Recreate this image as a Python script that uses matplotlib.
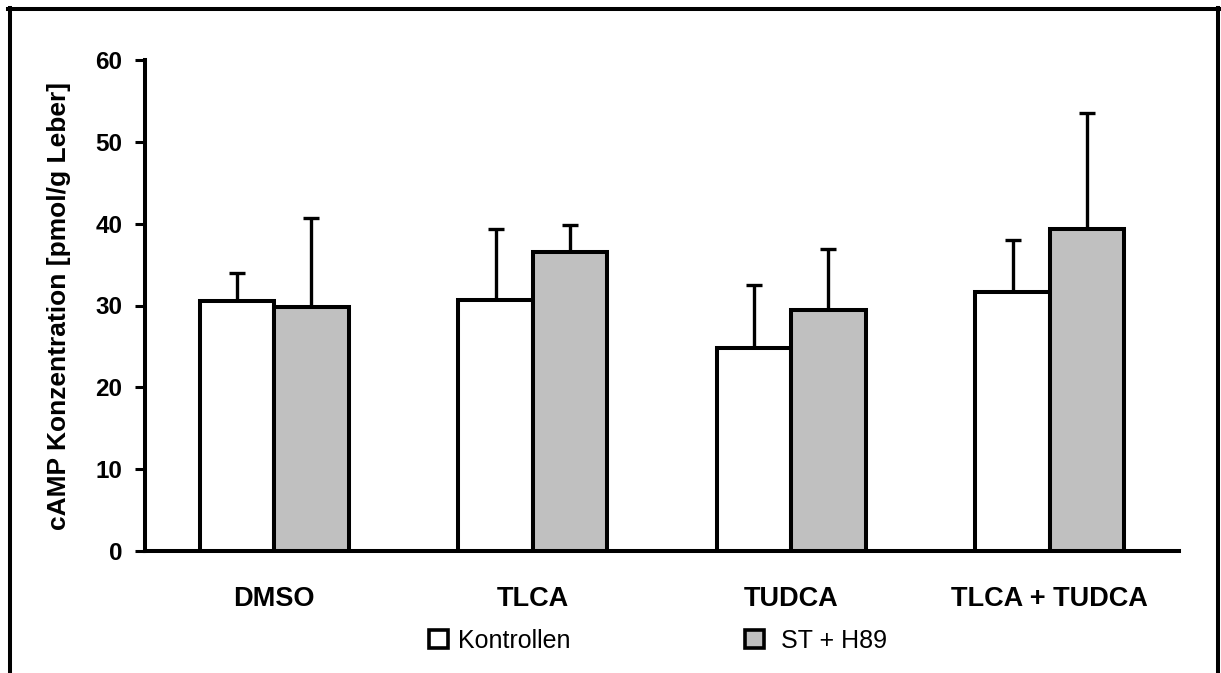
import matplotlib
matplotlib.use("Agg")
import matplotlib.pyplot as plt
from matplotlib.patches import Patch
from matplotlib.lines import Line2D
import numpy as np

plt.rcParams['font.family'] = ['Liberation Sans', 'DejaVu Sans']

# data
groups = ['DMSO', 'TLCA', 'TUDCA', 'TLCA + TUDCA']
ctrl_mean = [30.5, 30.7, 24.8, 31.6]
ctrl_err = [3.5, 8.6, 7.7, 6.4]
st_mean = [29.8, 36.5, 29.4, 39.4]
st_err = [10.9, 3.3, 7.5, 14.1]
series_names = ['Kontrollen', ' ST + H89']

W, H = 1221, 673
fig = plt.figure(figsize=(W / 100, H / 100), dpi=100)
ax = fig.add_axes([145 / W, 122 / H, 1034 / W, 491 / H])

x = np.arange(len(groups))
bw = 0.2875
lw = 2.9

ax.bar(x - bw / 2, ctrl_mean, bw, color='white', edgecolor='black', linewidth=lw, zorder=3)
ax.bar(x + bw / 2, st_mean, bw, color='#c0c0c0', edgecolor='black', linewidth=lw, zorder=3)

# only upper error bars
ax.errorbar(x - bw / 2, ctrl_mean, yerr=[np.zeros(4), ctrl_err], fmt='none',
            ecolor='black', elinewidth=2.4, capsize=5.5, capthick=2.4, zorder=2)
ax.errorbar(x + bw / 2, st_mean, yerr=[np.zeros(4), st_err], fmt='none',
            ecolor='black', elinewidth=2.4, capsize=5.5, capthick=2.4, zorder=2)

ax.set_xlim(-0.5, 3.5)
ax.set_ylim(0, 60)
ax.set_yticks(range(0, 61, 10))
ax.set_xticks(x)
ax.set_xticklabels(groups, fontsize=19.5, fontweight='bold')
ax.tick_params(axis='x', length=0, pad=25)
ax.tick_params(axis='y', length=7.2, width=2.2, pad=9, labelsize=17.5)
for t in ax.get_yticklabels():
    t.set_fontweight('bold')

for s in ['top', 'right']:
    ax.spines[s].set_visible(False)
for s in ['left', 'bottom']:
    ax.spines[s].set_linewidth(2.9)

ax.set_ylabel('cAMP Konzentration [pmol/g Leber]', fontsize=19, fontweight='bold')
ax.yaxis.set_label_coords(-0.072, 0.5)

handles = [Patch(facecolor='white', edgecolor='black', linewidth=2.6),
           Patch(facecolor='#c0c0c0', edgecolor='black', linewidth=2.6)]
fig.legend(handles, series_names, ncol=2, frameon=False, fontsize=18,
           loc='center', bbox_to_anchor=(658 / W, 1 - 641 / H),
           handlelength=0.75, handleheight=0.75, handletextpad=0.4,
           columnspacing=7.0)

# frame around the figure (open at the bottom)
fl = 2.9
fig.add_artist(Line2D([9.5 / W, 9.5 / W], [0, 1 - 8 / H], color='black', lw=fl, transform=fig.transFigure))
fig.add_artist(Line2D([8 / W, 1219 / W], [1 - 8.5 / H, 1 - 8.5 / H], color='black', lw=fl, transform=fig.transFigure))
fig.add_artist(Line2D([1218 / W, 1218 / W], [0, 1 - 8 / H], color='black', lw=fl, transform=fig.transFigure))

fig.savefig('out.png', dpi=100)
